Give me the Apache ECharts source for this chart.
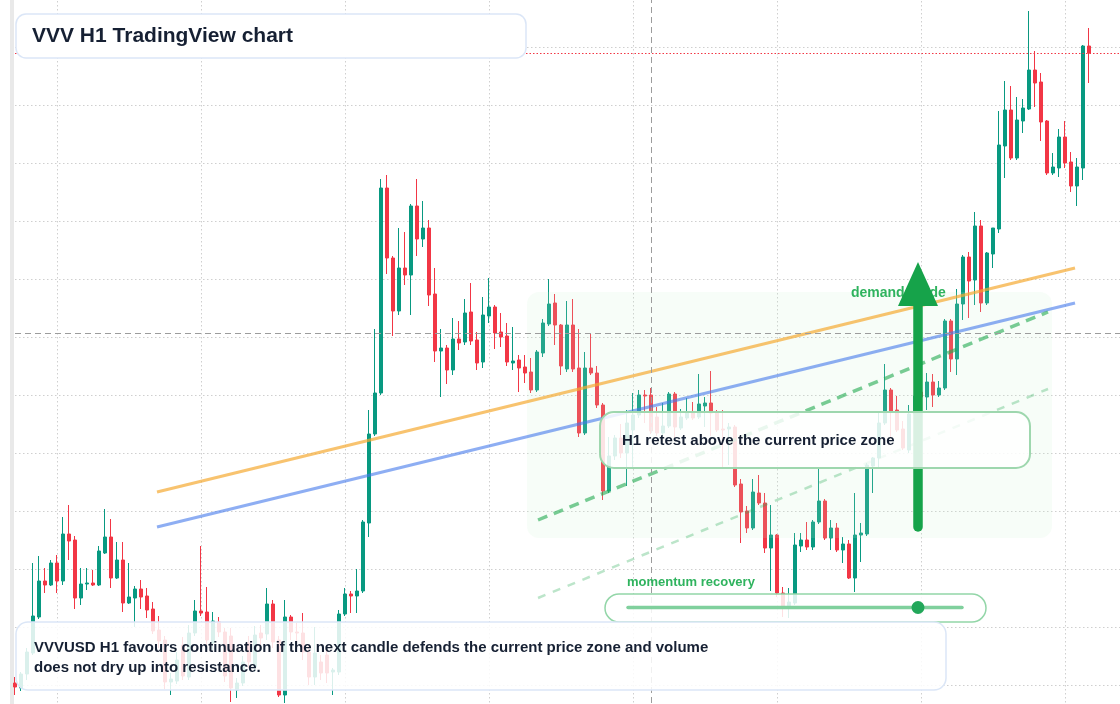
<!DOCTYPE html>
<html>
<head>
<meta charset="utf-8">
<script src="https://cdn.jsdelivr.net/npm/echarts@6.0.0/dist/echarts.min.js"></script>
<style>
  html, body { margin: 0; padding: 0; background: #ffffff; }
  #chart { width: 1120px; height: 704px; }
</style>
</head>
<body>
<div id="chart"></div>
<script>
// VVVUSD hourly candles: [open, close, low, high]
var candles = [
  [2.090, 2.086, 2.078, 2.096], [2.085, 2.099, 2.082, 2.101], [2.099, 2.121, 2.093, 2.125], [2.120, 2.157, 2.118, 2.210],
  [2.156, 2.192, 2.154, 2.217], [2.192, 2.188, 2.180, 2.205], [2.188, 2.210, 2.187, 2.213], [2.210, 2.192, 2.180, 2.218],
  [2.192, 2.239, 2.188, 2.256], [2.239, 2.232, 2.213, 2.268], [2.233, 2.175, 2.164, 2.237], [2.175, 2.189, 2.168, 2.205],
  [2.189, 2.190, 2.183, 2.205], [2.190, 2.188, 2.187, 2.203], [2.188, 2.222, 2.187, 2.227], [2.220, 2.236, 2.219, 2.264],
  [2.236, 2.195, 2.185, 2.254], [2.195, 2.213, 2.194, 2.231], [2.213, 2.170, 2.161, 2.231], [2.170, 2.176, 2.169, 2.210],
  [2.175, 2.184, 2.146, 2.187], [2.184, 2.176, 2.164, 2.193], [2.177, 2.163, 2.155, 2.185], [2.164, 2.142, 2.139, 2.171],
  [2.143, 2.132, 2.125, 2.157], [2.133, 2.091, 2.084, 2.137], [2.091, 2.094, 2.078, 2.100], [2.092, 2.113, 2.089, 2.121],
  [2.128, 2.097, 2.093, 2.136], [2.096, 2.140, 2.093, 2.148], [2.140, 2.162, 2.137, 2.173], [2.162, 2.160, 2.157, 2.227],
  [2.161, 2.133, 2.128, 2.186], [2.130, 2.152, 2.123, 2.161], [2.151, 2.141, 2.136, 2.156], [2.141, 2.097, 2.091, 2.145],
  [2.137, 2.085, 2.071, 2.145], [2.083, 2.090, 2.075, 2.095], [2.090, 2.111, 2.087, 2.117], [2.130, 2.111, 2.105, 2.137],
  [2.106, 2.138, 2.101, 2.147], [2.140, 2.135, 2.128, 2.148], [2.139, 2.169, 2.133, 2.185], [2.169, 2.131, 2.125, 2.173],
  [2.133, 2.078, 2.076, 2.137], [2.078, 2.156, 2.070, 2.173], [2.156, 2.141, 2.133, 2.158], [2.141, 2.140, 2.126, 2.150],
  [2.140, 2.121, 2.113, 2.160], [2.121, 2.096, 2.088, 2.128], [2.096, 2.120, 2.088, 2.146], [2.111, 2.100, 2.093, 2.118],
  [2.118, 2.100, 2.090, 2.123], [2.101, 2.103, 2.078, 2.105], [2.101, 2.159, 2.098, 2.163], [2.159, 2.179, 2.157, 2.185],
  [2.179, 2.177, 2.160, 2.182], [2.177, 2.182, 2.160, 2.204], [2.182, 2.251, 2.180, 2.253], [2.250, 2.339, 2.236, 2.363],
  [2.339, 2.380, 2.337, 2.444], [2.380, 2.585, 2.378, 2.594], [2.585, 2.515, 2.499, 2.598], [2.515, 2.462, 2.437, 2.517],
  [2.462, 2.505, 2.458, 2.545], [2.505, 2.498, 2.488, 2.541], [2.498, 2.567, 2.458, 2.569], [2.567, 2.534, 2.517, 2.594],
  [2.534, 2.545, 2.526, 2.572], [2.545, 2.478, 2.467, 2.553], [2.479, 2.422, 2.411, 2.505], [2.422, 2.425, 2.376, 2.444],
  [2.425, 2.403, 2.389, 2.428], [2.403, 2.434, 2.398, 2.455], [2.434, 2.430, 2.423, 2.452], [2.431, 2.460, 2.428, 2.474],
  [2.461, 2.432, 2.428, 2.490], [2.433, 2.410, 2.403, 2.441], [2.411, 2.458, 2.405, 2.476], [2.457, 2.466, 2.450, 2.495],
  [2.466, 2.440, 2.424, 2.468], [2.441, 2.436, 2.426, 2.460], [2.437, 2.411, 2.407, 2.450], [2.410, 2.412, 2.403, 2.446],
  [2.413, 2.405, 2.381, 2.418], [2.406, 2.400, 2.390, 2.418], [2.401, 2.383, 2.380, 2.415], [2.383, 2.421, 2.381, 2.423],
  [2.420, 2.450, 2.416, 2.454], [2.449, 2.469, 2.447, 2.494], [2.470, 2.448, 2.428, 2.479], [2.448, 2.407, 2.398, 2.449],
  [2.404, 2.448, 2.401, 2.472], [2.448, 2.404, 2.401, 2.474], [2.405, 2.340, 2.336, 2.444], [2.340, 2.405, 2.338, 2.421],
  [2.405, 2.400, 2.398, 2.439], [2.400, 2.368, 2.365, 2.407], [2.368, 2.282, 2.273, 2.370], [2.282, 2.317, 2.280, 2.336],
  [2.317, 2.335, 2.313, 2.338], [2.335, 2.320, 2.315, 2.349], [2.320, 2.350, 2.287, 2.363], [2.343, 2.358, 2.306, 2.380],
  [2.358, 2.378, 2.355, 2.383], [2.378, 2.377, 2.350, 2.383], [2.378, 2.342, 2.339, 2.385], [2.356, 2.340, 2.337, 2.366],
  [2.340, 2.347, 2.337, 2.370], [2.347, 2.379, 2.345, 2.381], [2.379, 2.346, 2.335, 2.381], [2.345, 2.356, 2.343, 2.364],
  [2.355, 2.360, 2.353, 2.375], [2.360, 2.355, 2.353, 2.371], [2.356, 2.369, 2.354, 2.399], [2.367, 2.370, 2.346, 2.376],
  [2.370, 2.360, 2.337, 2.402], [2.360, 2.343, 2.341, 2.363], [2.344, 2.343, 2.305, 2.363], [2.344, 2.346, 2.308, 2.350],
  [2.346, 2.288, 2.286, 2.348], [2.289, 2.261, 2.230, 2.294], [2.262, 2.245, 2.240, 2.267], [2.245, 2.281, 2.243, 2.294],
  [2.280, 2.270, 2.268, 2.298], [2.270, 2.225, 2.220, 2.280], [2.225, 2.238, 2.182, 2.268], [2.238, 2.180, 2.176, 2.239],
  [2.180, 2.166, 2.156, 2.186], [2.166, 2.171, 2.155, 2.185], [2.170, 2.228, 2.168, 2.240], [2.227, 2.233, 2.221, 2.240],
  [2.233, 2.226, 2.223, 2.251], [2.226, 2.251, 2.223, 2.253], [2.251, 2.272, 2.249, 2.306], [2.272, 2.235, 2.233, 2.274],
  [2.235, 2.245, 2.223, 2.253], [2.245, 2.223, 2.221, 2.250], [2.223, 2.229, 2.210, 2.236], [2.229, 2.195, 2.194, 2.233],
  [2.195, 2.238, 2.181, 2.280], [2.238, 2.240, 2.211, 2.250], [2.239, 2.308, 2.237, 2.310], [2.307, 2.315, 2.280, 2.316],
  [2.315, 2.350, 2.305, 2.361], [2.350, 2.383, 2.348, 2.409], [2.383, 2.362, 2.335, 2.385], [2.363, 2.343, 2.341, 2.377],
  [2.344, 2.325, 2.323, 2.352], [2.323, 2.359, 2.320, 2.368], [2.359, 2.377, 2.357, 2.381], [2.381, 2.376, 2.373, 2.383],
  [2.376, 2.391, 2.363, 2.400], [2.391, 2.378, 2.366, 2.399], [2.378, 2.385, 2.376, 2.392], [2.385, 2.452, 2.383, 2.454],
  [2.452, 2.414, 2.401, 2.454], [2.414, 2.469, 2.398, 2.484], [2.469, 2.516, 2.453, 2.518], [2.516, 2.492, 2.455, 2.521],
  [2.493, 2.547, 2.468, 2.561], [2.547, 2.470, 2.461, 2.553], [2.470, 2.520, 2.468, 2.521], [2.519, 2.545, 2.505, 2.545],
  [2.544, 2.628, 2.540, 2.662], [2.627, 2.663, 2.595, 2.692], [2.663, 2.615, 2.613, 2.687], [2.615, 2.653, 2.613, 2.676],
  [2.652, 2.665, 2.640, 2.674], [2.664, 2.703, 2.663, 2.762], [2.703, 2.690, 2.666, 2.722], [2.691, 2.651, 2.632, 2.700],
  [2.652, 2.600, 2.598, 2.653], [2.600, 2.606, 2.598, 2.620], [2.605, 2.636, 2.596, 2.644], [2.636, 2.610, 2.605, 2.652],
  [2.611, 2.587, 2.581, 2.621], [2.587, 2.606, 2.567, 2.615], [2.605, 2.727, 2.593, 2.728], [2.727, 2.720, 2.690, 2.745]
];

// hour slots on the x axis (a few empty ones after the last candle)
var hours = [];
for (var h = 0; h < 186; h++) {
  var d = new Date(Date.UTC(2025, 0, 1, 0) + h * 3600 * 1000);
  hours.push(d.toISOString().slice(5, 13).replace('T', ' ') + ':00');
}

// trendlines: [candle index, price]
var resistanceLine = [[23.67, 2.281], [176.67, 2.505]];
var supportLine = [[23.67, 2.246], [176.67, 2.470]];
var demandGuide = [[87.17, 2.253], [172.17, 2.461]];
var demandFloor = [[87.17, 2.175], [172.17, 2.384]];

// crosshair and price scale
var crossIndex = 106;
var crossPrice = 2.435;
var lastClose = candles[candles.length - 1][1];
var priceMin = 2.030, priceMax = 2.784, priceStep = 0.058;

var up = '#089981';
var down = '#f23645';
var ink = '#162033';
var green = '#2fb35e';
var font = '"Liberation Sans", Arial, Helvetica, sans-serif';

var chart = echarts.init(document.getElementById('chart'), null, { renderer: 'canvas' });
chart.setOption({
  animation: false,
  backgroundColor: '#ffffff',
  grid: { left: 15, right: -5, top: -11, bottom: -39, containLabel: false, outerBoundsMode: 'none' },
  xAxis: [{
    type: 'category',
    data: hours,
    boundaryGap: false,
    axisLine: { show: false },
    axisTick: { show: false },
    axisLabel: { show: false },
    splitLine: {
      show: true,
      interval: function(index) { return index % 24 === 7; },
      lineStyle: { color: '#cfcfcf', type: [1.5, 2.5], width: 1 }
    }
  }, {
    type: 'value',
    min: 0,
    max: 185,
    show: false,
    splitLine: { show: false }
  }],
  yAxis: {
    type: 'value',
    min: priceMin,
    max: priceMax,
    interval: priceStep,
    axisLine: { show: false },
    axisTick: { show: false },
    axisLabel: { show: false },
    splitLine: { lineStyle: { color: '#cfcfcf', type: [1.5, 2.5], width: 1 } }
  },
  series: [{
    type: 'candlestick',
    data: candles,
    barWidth: 4,
    clip: false,
    z: 2,
    itemStyle: {
      color: up, color0: down,
      borderColor: up, borderColor0: down,
      borderWidth: 1
    },
    markLine: {
      silent: true,
      symbol: 'none',
      animation: false,
      label: { show: false },
      data: [
        { xAxis: crossIndex, lineStyle: { color: '#9c9c9c', type: [6, 4], width: 1 } },
        { yAxis: crossPrice, lineStyle: { color: '#9c9c9c', type: [6, 4], width: 1 } },
        { yAxis: lastClose, lineStyle: { color: down, type: [1.5, 2], width: 1 } }
      ]
    }
  }, {
    type: 'line', xAxisIndex: 1, data: resistanceLine, symbol: 'none', silent: true, z: 4,
    lineStyle: { color: 'rgba(245,170,50,0.7)', width: 3 }
  }, {
    type: 'line', xAxisIndex: 1, data: supportLine, symbol: 'none', silent: true, z: 4,
    lineStyle: { color: 'rgba(66,120,235,0.6)', width: 3 }
  }, {
    type: 'line', xAxisIndex: 1, data: demandGuide, symbol: 'none', silent: true, z: 4,
    lineStyle: { color: 'rgba(34,170,80,0.6)', width: 3.5, type: [10, 7] }
  }, {
    type: 'line', xAxisIndex: 1, data: demandFloor, symbol: 'none', silent: true, z: 4,
    lineStyle: { color: 'rgba(34,170,80,0.3)', width: 2.5, type: [8, 8] }
  }],
  graphic: [
    { type: 'rect', z: 1, silent: true, shape: { x: 10, y: 0, width: 4, height: 704 }, style: { fill: '#e9e9e9' } },
    { type: 'rect', z: 3, silent: true, shape: { x: 527, y: 292, width: 525, height: 246, r: 12 }, style: { fill: 'rgba(200,240,210,0.15)' } },
    { type: 'text', z: 5, x: 851, y: 293, style: { text: 'demand guide', fill: green, fontSize: 14, fontWeight: 'bold', fontFamily: font, verticalAlign: 'middle' } },
    { type: 'line', z: 6, shape: { x1: 918, y1: 300, x2: 918, y2: 527 }, style: { stroke: '#16a34a', lineWidth: 9.5, lineCap: 'round' } },
    { type: 'polygon', z: 6, shape: { points: [[918, 262], [938, 306], [898, 306]] }, style: { fill: '#16a34a' } },
    { type: 'rect', z: 7, shape: { x: 600, y: 412, width: 430, height: 56, r: 14 }, style: { fill: 'rgba(255,255,255,0.84)', stroke: '#9ed7ae', lineWidth: 2 } },
    { type: 'text', z: 8, x: 622, y: 441, style: { text: 'H1 retest above the current price zone', fill: ink, fontSize: 15, fontWeight: 'bold', fontFamily: font, verticalAlign: 'middle' } },
    { type: 'text', z: 7, x: 627, y: 582, style: { text: 'momentum recovery', fill: green, fontSize: 13, fontWeight: 'bold', fontFamily: font, verticalAlign: 'middle' } },
    { type: 'rect', z: 7, shape: { x: 605, y: 594, width: 381, height: 28, r: 14 }, style: { fill: 'rgba(255,255,255,0.85)', stroke: '#93d6a8', lineWidth: 1.5 } },
    { type: 'line', z: 8, shape: { x1: 628, y1: 607.5, x2: 962, y2: 607.5 }, style: { stroke: '#80d09d', lineWidth: 3.5, lineCap: 'round' } },
    { type: 'circle', z: 8, shape: { cx: 918, cy: 607.5, r: 6.5 }, style: { fill: '#22a75a' } },
    { type: 'rect', z: 9, shape: { x: 16, y: 14, width: 510, height: 44, r: 10 }, style: { fill: '#ffffff', stroke: '#dbe6f7', lineWidth: 1.5 } },
    { type: 'text', z: 10, x: 32, y: 36, style: { text: 'VVV H1 TradingView chart', fill: ink, fontSize: 21, fontWeight: 'bold', fontFamily: font, verticalAlign: 'middle' } },
    { type: 'rect', z: 9, shape: { x: 16, y: 622, width: 930, height: 68, r: 12 }, style: { fill: 'rgba(255,255,255,0.85)', stroke: '#dbe6f7', lineWidth: 1.5 } },
    { type: 'text', z: 10, x: 34, y: 648, style: { text: 'VVVUSD H1 favours continuation if the next candle defends the current price zone and volume', fill: ink, fontSize: 15, fontWeight: 'bold', fontFamily: font, verticalAlign: 'middle' } },
    { type: 'text', z: 10, x: 34, y: 668, style: { text: 'does not dry up into resistance.', fill: ink, fontSize: 15, fontWeight: 'bold', fontFamily: font, verticalAlign: 'middle' } }
  ]
});
window.addEventListener('resize', function() { chart.resize(); });
</script>
</body>
</html>
